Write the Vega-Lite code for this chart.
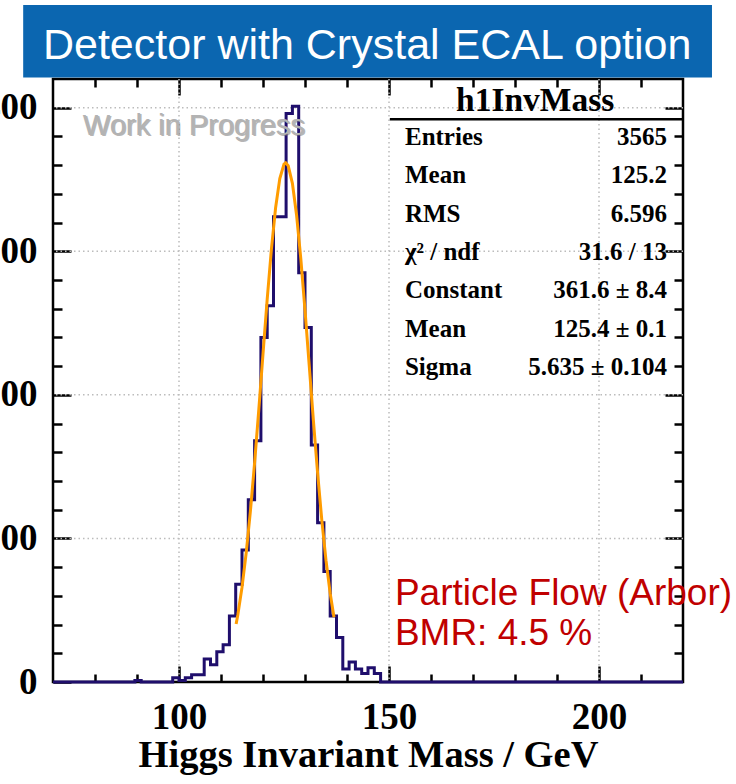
{
  "$schema": "https://vega.github.io/schema/vega-lite/v6.json",
  "width": 630,
  "height": 603,
  "autosize": {"type": "none"},
  "padding": {"left": 53, "top": 79, "right": 53, "bottom": 102},
  "background": "white",
  "config": {
    "view": {"stroke": "#000000", "strokeWidth": 2.5},
    "axis": {
      "domain": false,
      "grid": false,
      "tickColor": "#000000",
      "tickWidth": 2.5,
      "labelFont": "Liberation Serif",
      "labelFontWeight": "bold",
      "labelFontSize": 37,
      "labelColor": "#000000",
      "titleFont": "Liberation Serif",
      "titleFontWeight": "bold",
      "titleFontSize": 38.5,
      "titleColor": "#000000"
    }
  },
  "data": {"values": [{}]},
  "datasets": {
    "hist": [
      {"m": 70, "n": 0}, {"m": 71.5, "n": 0}, {"m": 73, "n": 0}, {"m": 74.5, "n": 0},
      {"m": 76, "n": 0}, {"m": 77.5, "n": 0}, {"m": 79, "n": 0}, {"m": 80.5, "n": 0},
      {"m": 82, "n": 0}, {"m": 83.5, "n": 0}, {"m": 85, "n": 0}, {"m": 86.5, "n": 0},
      {"m": 88, "n": 0}, {"m": 89.5, "n": 1}, {"m": 91, "n": 0}, {"m": 92.5, "n": 0},
      {"m": 94, "n": 0}, {"m": 95.5, "n": 0}, {"m": 97, "n": 0}, {"m": 98.5, "n": 3},
      {"m": 100, "n": 1}, {"m": 101.5, "n": 3}, {"m": 103, "n": 5}, {"m": 104.5, "n": 5},
      {"m": 106, "n": 16}, {"m": 107.5, "n": 12}, {"m": 109, "n": 21}, {"m": 110.5, "n": 26},
      {"m": 112, "n": 46}, {"m": 113.5, "n": 68}, {"m": 115, "n": 92}, {"m": 116.5, "n": 127},
      {"m": 118, "n": 168}, {"m": 119.5, "n": 240}, {"m": 121, "n": 262}, {"m": 122.5, "n": 324},
      {"m": 124, "n": 324}, {"m": 125.5, "n": 396}, {"m": 127, "n": 401}, {"m": 128.5, "n": 285},
      {"m": 130, "n": 247}, {"m": 131.5, "n": 165}, {"m": 133, "n": 111}, {"m": 134.5, "n": 77},
      {"m": 136, "n": 46}, {"m": 137.5, "n": 31}, {"m": 139, "n": 9}, {"m": 140.5, "n": 14},
      {"m": 142, "n": 9}, {"m": 143.5, "n": 6}, {"m": 145, "n": 10}, {"m": 146.5, "n": 6},
      {"m": 148, "n": 0}, {"m": 149.5, "n": 0}, {"m": 151, "n": 0}, {"m": 152.5, "n": 0},
      {"m": 154, "n": 0}, {"m": 155.5, "n": 0}, {"m": 157, "n": 0}, {"m": 158.5, "n": 0},
      {"m": 160, "n": 0}, {"m": 161.5, "n": 0}, {"m": 163, "n": 0}, {"m": 164.5, "n": 0},
      {"m": 166, "n": 0}, {"m": 167.5, "n": 0}, {"m": 169, "n": 0}, {"m": 170.5, "n": 0},
      {"m": 172, "n": 0}, {"m": 173.5, "n": 0}, {"m": 175, "n": 0}, {"m": 176.5, "n": 0},
      {"m": 178, "n": 0}, {"m": 179.5, "n": 0}, {"m": 181, "n": 0}, {"m": 182.5, "n": 0},
      {"m": 184, "n": 0}, {"m": 185.5, "n": 0}, {"m": 187, "n": 0}, {"m": 188.5, "n": 0},
      {"m": 190, "n": 0}, {"m": 191.5, "n": 0}, {"m": 193, "n": 0}, {"m": 194.5, "n": 0},
      {"m": 196, "n": 0}, {"m": 197.5, "n": 0}, {"m": 199, "n": 0}, {"m": 200.5, "n": 0},
      {"m": 202, "n": 0}, {"m": 203.5, "n": 0}, {"m": 205, "n": 0}, {"m": 206.5, "n": 0},
      {"m": 208, "n": 0}, {"m": 209.5, "n": 0}, {"m": 211, "n": 0}, {"m": 212.5, "n": 0},
      {"m": 214, "n": 0}, {"m": 215.5, "n": 0}, {"m": 217, "n": 0}, {"m": 218.5, "n": 0},
      {"m": 220, "n": 0}
    ],
    "fit": [
      {"x": 113.6, "f": 40.4}, {"x": 114, "f": 46.7}, {"x": 115, "f": 65.9}, {"x": 116, "f": 89.9},
      {"x": 117, "f": 119.0}, {"x": 118, "f": 152.7}, {"x": 119, "f": 189.7}, {"x": 120, "f": 228.5},
      {"x": 121, "f": 266.6}, {"x": 122, "f": 301.4}, {"x": 123, "f": 330.3}, {"x": 124, "f": 350.6},
      {"x": 125, "f": 360.7}, {"x": 125.4, "f": 361.6}, {"x": 126, "f": 359.6}, {"x": 127, "f": 347.3},
      {"x": 128, "f": 325.1}, {"x": 129, "f": 294.9}, {"x": 130, "f": 259.1}, {"x": 131, "f": 220.7},
      {"x": 132, "f": 182.1}, {"x": 133, "f": 145.6}, {"x": 134, "f": 112.8}, {"x": 135, "f": 84.7},
      {"x": 136, "f": 61.7}, {"x": 136.9, "f": 45.1}
    ],
    "gridMass": [{"g": 100}, {"g": 150}, {"g": 200}],
    "gridCount": [{"g": 100}, {"g": 200}, {"g": 300}, {"g": 400}]
  },
  "layer": [
    {
      "mark": {"type": "rect", "color": "#0b66b0"},
      "encoding": {
        "x": {"datum": 62.9, "type": "quantitative", "axis": null},
        "x2": {"datum": 226.9},
        "y": {"datum": 471.5, "type": "quantitative", "axis": null},
        "y2": {"datum": 421}
      }
    },
    {
      "mark": {"type": "text", "text": "Detector with Crystal ECAL option", "font": "Liberation Sans", "fontSize": 43, "color": "#ffffff", "align": "center", "baseline": "alphabetic"},
      "encoding": {
        "x": {"datum": 144.8, "type": "quantitative", "axis": null},
        "y": {"datum": 433.6, "type": "quantitative", "axis": null}
      }
    },
    {
      "data": {"name": "gridMass"},
      "mark": {"type": "rule", "color": "#bcbcbc", "strokeWidth": 1.5, "strokeDash": [1.5, 3]},
      "encoding": {"x": {"field": "g", "type": "quantitative", "axis": null}}
    },
    {
      "data": {"name": "gridCount"},
      "mark": {"type": "rule", "color": "#bcbcbc", "strokeWidth": 1.5, "strokeDash": [1.5, 3]},
      "encoding": {"y": {"field": "g", "type": "quantitative", "axis": null}}
    },
    {
      "data": {"name": "hist"},
      "mark": {"type": "line", "interpolate": "step-after", "color": "#1f0e6c", "strokeWidth": 3},
      "encoding": {
        "x": {
          "field": "m", "type": "quantitative",
          "scale": {"domain": [70, 220], "nice": false, "zero": false},
          "axis": {
            "orient": "bottom",
            "values": [80, 90, 100, 110, 120, 130, 140, 150, 160, 170, 180, 190, 200, 210],
            "labelExpr": "datum.value % 50 === 0 ? datum.label : ''",
            "tickSize": {"expr": "datum.value % 50 === 0 ? -16 : -8"},
            "labelPadding": 33,
            "labelOverlap": false,
            "labelFlush": false,
            "title": "Higgs Invariant Mass / GeV",
            "titlePadding": -7
          }
        },
        "y": {
          "field": "n", "type": "quantitative",
          "scale": {"domain": [0, 420], "nice": false, "zero": true},
          "axis": {
            "orient": "left",
            "values": [0, 20, 40, 60, 80, 100, 120, 140, 160, 180, 200, 220, 240, 260, 280, 300, 320, 340, 360, 380, 400],
            "labelExpr": "datum.value % 100 === 0 ? datum.label : ''",
            "tickSize": {"expr": "datum.value % 100 === 0 ? -18 : -9"},
            "labelPadding": 34,
            "labelOverlap": false,
            "labelFlush": false,
            "title": null
          }
        }
      }
    },
    {
      "data": {"name": "fit"},
      "mark": {"type": "line", "color": "#ff9c00", "strokeWidth": 3},
      "encoding": {
        "x": {
          "field": "x", "type": "quantitative",
          "axis": {
            "orient": "top",
            "values": [80, 90, 100, 110, 120, 130, 140, 150, 160, 170, 180, 190, 200, 210],
            "labels": false,
            "tickSize": {"expr": "datum.value % 50 === 0 ? -16 : -8"},
            "title": null
          }
        },
        "y": {
          "field": "f", "type": "quantitative",
          "axis": {
            "orient": "right",
            "values": [20, 40, 60, 80, 100, 120, 140, 160, 180, 200, 220, 240, 260, 280, 300, 320, 340, 360, 380, 400],
            "labels": false,
            "tickSize": {"expr": "datum.value % 100 === 0 ? -18 : -9"},
            "title": null
          }
        }
      }
    },
    {
      "mark": {"type": "text", "text": "Work in Progress", "font": "Liberation Sans", "fontSize": 29, "color": "#6f6f6f", "opacity": 0.5, "dx": 1.5, "dy": 1.5, "align": "left", "baseline": "alphabetic"},
      "encoding": {
        "x": {"datum": 77.1, "type": "quantitative", "axis": null},
        "y": {"datum": 381.0, "type": "quantitative", "axis": null}
      }
    },
    {
      "mark": {"type": "text", "text": "Work in Progress", "font": "Liberation Sans", "fontSize": 29, "color": "#b3b3b3", "align": "left", "baseline": "alphabetic"},
      "encoding": {
        "x": {"datum": 77.1, "type": "quantitative", "axis": null},
        "y": {"datum": 381.0, "type": "quantitative", "axis": null}
      }
    },
    {
      "mark": {"type": "text", "text": "h1InvMass", "font": "Liberation Serif", "fontWeight": "bold", "fontSize": 33.5, "color": "#000000", "align": "center", "baseline": "alphabetic"},
      "encoding": {
        "x": {"datum": 184.8, "type": "quantitative", "axis": null},
        "y": {"datum": 397.6, "type": "quantitative", "axis": null}
      }
    },
    {
      "mark": {"type": "rule", "color": "#000000", "strokeWidth": 2.5},
      "encoding": {
        "x": {"datum": 150.2, "type": "quantitative", "axis": null},
        "x2": {"datum": 220},
        "y": {"datum": 391.9, "type": "quantitative", "axis": null}
      }
    },
    {
      "mark": {"type": "text", "text": ["Entries", "Mean", "RMS", "χ² / ndf", "Constant", "Mean", "Sigma"], "lineHeight": 38.3, "font": "Liberation Serif", "fontWeight": "bold", "fontSize": 25, "color": "#000000", "align": "left", "baseline": "alphabetic"},
      "encoding": {
        "x": {"datum": 153.8, "type": "quantitative", "axis": null},
        "y": {"datum": 374.0, "type": "quantitative", "axis": null}
      }
    },
    {
      "mark": {"type": "text", "text": ["3565", "125.2", "6.596", "31.6 / 13", "361.6 ± 8.4", "125.4 ± 0.1", "5.635 ± 0.104"], "lineHeight": 38.3, "font": "Liberation Serif", "fontWeight": "bold", "fontSize": 25, "color": "#000000", "align": "right", "baseline": "alphabetic"},
      "encoding": {
        "x": {"datum": 216.2, "type": "quantitative", "axis": null},
        "y": {"datum": 374.0, "type": "quantitative", "axis": null}
      }
    },
    {
      "mark": {"type": "text", "text": ["Particle Flow (Arbor)", "BMR: 4.5 %"], "lineHeight": 40, "font": "Liberation Sans", "fontSize": 37, "color": "#c00000", "align": "left", "baseline": "alphabetic"},
      "encoding": {
        "x": {"datum": 151.4, "type": "quantitative", "axis": null},
        "y": {"datum": 53.6, "type": "quantitative", "axis": null}
      }
    }
  ]
}
